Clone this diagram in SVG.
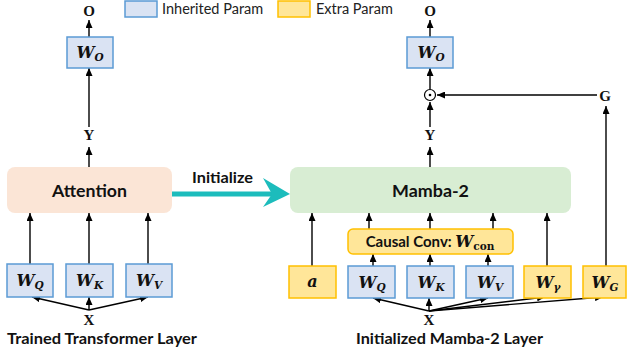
<svg xmlns="http://www.w3.org/2000/svg" width="627" height="356" viewBox="0 0 627 356">
<style>
.inh{fill:#dae3f3;stroke:#5b9bd5;stroke-width:1.5}
.ext{fill:#ffe699;stroke:#ffc000;stroke-width:1.5}
.lbl{font-family:Lato,"Liberation Sans",sans-serif;font-weight:bold;fill:#111}
.leg{font-family:Lato,"Liberation Sans",sans-serif;font-size:14.5px;fill:#222}
.var{font-family:"Liberation Serif","DejaVu Serif",serif;font-weight:bold;font-size:15px;fill:#111;text-anchor:middle}
.w{font-family:"DejaVu Serif",serif;font-weight:bold;font-style:italic;font-size:16px;fill:#111;text-anchor:middle}
.sub{font-size:10.5px}
.c line,.c path{stroke:#000;stroke-width:1.4;fill:none;marker-end:url(#ah)}
</style>
<defs>
<marker id="ah" markerUnits="userSpaceOnUse" markerWidth="8" markerHeight="7" refX="8" refY="3.5" orient="auto">
<path d="M0,0 L8,3.5 L0,7 z" fill="#000"/>
</marker>
</defs>
<rect width="627" height="356" fill="#fff"/>

<g id="legend">
<rect class="inh" x="125" y="1" width="32" height="16"/>
<text class="leg" x="162" y="14">Inherited Param</text>
<rect class="ext" x="278" y="1" width="32" height="16"/>
<text class="leg" x="316" y="14">Extra Param</text>
</g>

<g class="c" id="connectors">
<line x1="89" y1="37" x2="89" y2="20"/>
<line x1="89" y1="127" x2="89" y2="68"/>
<line x1="89" y1="167" x2="89" y2="147"/>
<line x1="30" y1="264" x2="30" y2="213"/>
<line x1="89" y1="264" x2="89" y2="213"/>
<line x1="148" y1="264" x2="148" y2="213"/>
<line x1="89" y1="310" x2="32" y2="297"/>
<line x1="89" y1="310" x2="89" y2="297"/>
<line x1="89" y1="310" x2="148" y2="297"/>

<line x1="430" y1="37" x2="430" y2="20"/>
<line x1="430" y1="89" x2="430" y2="68"/>
<line x1="430" y1="127" x2="430" y2="102"/>
<line x1="430" y1="167" x2="430" y2="147"/>
<line x1="597" y1="95" x2="437" y2="95"/>
<line x1="606" y1="266" x2="606" y2="106"/>
<line x1="312" y1="266" x2="312" y2="213"/>
<line x1="369" y1="229" x2="369" y2="213"/>
<line x1="430" y1="229" x2="430" y2="213"/>
<line x1="493" y1="229" x2="493" y2="213"/>
<line x1="373" y1="266" x2="373" y2="254"/>
<line x1="430" y1="266" x2="430" y2="254"/>
<line x1="488" y1="266" x2="488" y2="254"/>
<line x1="547" y1="266" x2="547" y2="213"/>
<line x1="429" y1="311" x2="373" y2="298"/>
<line x1="429" y1="311" x2="429" y2="298"/>
<line x1="429" y1="311" x2="488" y2="298"/>
<line x1="429" y1="311" x2="545" y2="297"/>
<line x1="429" y1="311" x2="603" y2="297"/>
</g>

<g id="initialize">
<line x1="172" y1="194" x2="274" y2="194" stroke="#1cbcbc" stroke-width="5"/>
<path d="M290,194 L263,178 L272,194 L263,207 z" fill="#1cbcbc"/>
<text class="lbl" x="222.5" y="183" font-size="15.5" text-anchor="middle" textLength="61" lengthAdjust="spacingAndGlyphs">Initialize</text>
</g>

<g id="attention">
<rect x="7" y="167" width="165" height="46" rx="8" fill="#fbe5d6"/>
<text class="lbl" x="89.5" y="197" font-size="17" text-anchor="middle" textLength="75" lengthAdjust="spacingAndGlyphs">Attention</text>
</g>

<g id="mamba">
<rect x="290" y="167" width="281" height="46" rx="8" fill="#d8edd3"/>
<text class="lbl" x="430.5" y="197" font-size="17" text-anchor="middle" textLength="77" lengthAdjust="spacingAndGlyphs">Mamba-2</text>
</g>

<g id="conv">
<rect class="ext" x="348" y="229" width="165" height="25" rx="5"/>
<text x="430" y="247" text-anchor="middle"><tspan class="lbl" font-size="15">Causal Conv: </tspan><tspan font-family="DejaVu Serif,serif" font-weight="bold" font-style="italic" font-size="16" fill="#111">W</tspan><tspan font-family="DejaVu Serif,serif" font-weight="bold" font-size="10.5" dy="3" fill="#111">con</tspan></text>
</g>

<g id="left-wo">
<rect class="inh" x="67" y="37" width="46" height="31"/>
<text class="w" x="90" y="58">W<tspan class="sub" dy="3">O</tspan></text>
</g>
<g id="left-wq">
<rect class="inh" x="7" y="264" width="46" height="33"/>
<text class="w" x="30" y="286">W<tspan class="sub" dy="3">Q</tspan></text>
</g>
<g id="left-wk">
<rect class="inh" x="66" y="264" width="47" height="33"/>
<text class="w" x="89.5" y="286">W<tspan class="sub" dy="3">K</tspan></text>
</g>
<g id="left-wv">
<rect class="inh" x="126" y="264" width="46" height="33"/>
<text class="w" x="149" y="286">W<tspan class="sub" dy="3">V</tspan></text>
</g>

<g id="right-wo">
<rect class="inh" x="407" y="37" width="46" height="31"/>
<text class="w" x="431" y="58">W<tspan class="sub" dy="3">O</tspan></text>
</g>
<g id="a">
<rect class="ext" x="289" y="266" width="47" height="32"/>
<text class="w" x="312.5" y="287">a</text>
</g>
<g id="right-wq">
<rect class="inh" x="348" y="266" width="47" height="32"/>
<text class="w" x="372" y="288">W<tspan class="sub" dy="3">Q</tspan></text>
</g>
<g id="right-wk">
<rect class="inh" x="407" y="266" width="47" height="32"/>
<text class="w" x="431" y="288">W<tspan class="sub" dy="3">K</tspan></text>
</g>
<g id="right-wv">
<rect class="inh" x="466" y="266" width="47" height="32"/>
<text class="w" x="490" y="288">W<tspan class="sub" dy="3">V</tspan></text>
</g>
<g id="right-wgamma">
<rect class="ext" x="524" y="266" width="47" height="32"/>
<text class="w" x="548" y="288">W<tspan class="sub" dy="3">γ</tspan></text>
</g>
<g id="right-wg">
<rect class="ext" x="583" y="266" width="43" height="32"/>
<text class="w" x="605" y="288">W<tspan class="sub" dy="3">G</tspan></text>
</g>

<g id="odot">
<circle cx="430" cy="95" r="5.5" fill="#fff" stroke="#000" stroke-width="1.2"/>
<circle cx="430" cy="95" r="1.3" fill="#000"/>
</g>

<g id="vars">
<text class="var" x="89" y="16">O</text>
<text class="var" x="89" y="140">Y</text>
<text class="var" x="89" y="325" font-size="14">X</text>
<text class="var" x="430" y="16">O</text>
<text class="var" x="430" y="140">Y</text>
<text class="var" x="605" y="101">G</text>
<text class="var" x="429" y="325" font-size="14">X</text>
</g>

<g id="captions">
<text class="lbl" x="7" y="344" font-size="15" textLength="190" lengthAdjust="spacingAndGlyphs">Trained Transformer Layer</text>
<text class="lbl" x="356" y="344" font-size="15" textLength="187" lengthAdjust="spacingAndGlyphs">Initialized Mamba-2 Layer</text>
</g>
</svg>
